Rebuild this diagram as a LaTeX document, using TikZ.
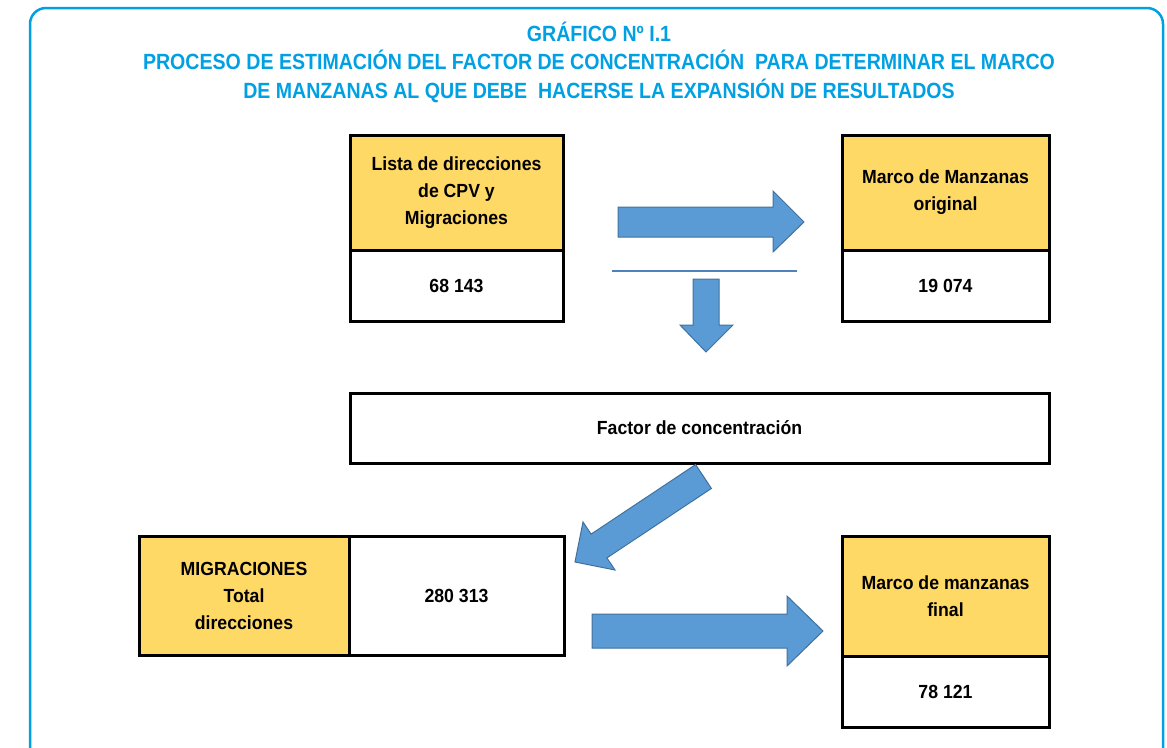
\documentclass[tikz,border=0pt]{standalone}
\usepackage{fontspec}
\setmainfont{Liberation Sans}[FakeStretch=0.93]
\newfontfamily\fuentetitulo{Liberation Sans}[FakeStretch=0.89]
\usetikzlibrary{positioning}
\definecolor{celeste}{RGB}{0,160,227}
\definecolor{amarillo}{RGB}{255,217,102}
\definecolor{flecha}{RGB}{91,155,213}
\definecolor{flechaborde}{RGB}{65,113,156}
\definecolor{linea}{RGB}{79,129,189}
\tikzset{
  caja/.style={draw=black, line width=3pt, align=center, inner sep=0pt, outer sep=0pt,
    font=\fontsize{19}{27}\selectfont\bfseries},
  cajaamarilla/.style={caja, fill=amarillo},
  cajablanca/.style={caja, fill=white},
  flechabloque/.style={fill=flecha, draw=flechaborde, line width=1pt, line join=miter}
}

\begin{document}
\begin{tikzpicture}[x=1pt,y=-1pt]
\useasboundingbox (0,0) rectangle (1167,747);
\clip (0,0) rectangle (1167,747);
% marco exterior
\draw[celeste, line width=2.5pt, rounded corners=16pt] (30,8) rectangle (1163,765);
\node[celeste, align=center, font=\fontsize{22}{28.5}\selectfont\fuentetitulo\bfseries] (titulo) at (599,62)
  {GRÁFICO Nº I.1\\PROCESO DE ESTIMACIÓN DEL FACTOR DE CONCENTRACIÓN~ PARA DETERMINAR EL MARCO\\DE MANZANAS AL QUE DEBE~ HACERSE LA EXPANSIÓN DE RESULTADOS};

% cajas superiores
\node[cajaamarilla, anchor=north west, minimum width=213, minimum height=115] (lista) at (350,135)
  {Lista de direcciones\\de CPV y\\Migraciones};
\node[cajablanca, below=0pt of lista, minimum width=213, minimum height=71] (listanum) {68 143};
\node[cajaamarilla, anchor=north west, minimum width=207, minimum height=115] (marco) at (842,135)
  {Marco de Manzanas\\original};
\node[cajablanca, below=0pt of marco, minimum width=207, minimum height=71] (marconum) {19 074};

% factor
\node[cajablanca, anchor=north west, minimum width=699, minimum height=70] (factor) at (350,393)
  {Factor de concentración};

% cajas inferiores
\node[cajaamarilla, anchor=north west, minimum width=210, minimum height=119] (migra) at (139,536)
  {MIGRACIONES\\Total\\direcciones};
\node[cajablanca, right=0pt of migra, minimum width=215, minimum height=119] (migranum) {280 313};
\node[cajaamarilla, anchor=north west, minimum width=207, minimum height=120] (final) at (842,536)
  {Marco de manzanas\\final};
\node[cajablanca, below=0pt of final, minimum width=207, minimum height=71] (finalnum) {78 121};

% flechas
\filldraw[flechabloque] (618,207) -- (773,207) -- (773,191) -- (804,222) -- (773,252) -- (773,237) -- (618,237) -- cycle;
\draw[linea, line width=1.2pt] (612,271) -- (797,271);
\filldraw[flechabloque] (693,279) -- (719,279) -- (719,325) -- (733,325) -- (706,352) -- (680,325) -- (693,325) -- cycle;
\filldraw[flechabloque] (695.6,464.6) -- (591.1,534.1) -- (583,522) -- (575,562) -- (615,570) -- (606.9,557.9) -- (711.4,488.4) -- cycle;
\filldraw[flechabloque] (592,614) -- (787,614) -- (787,596) -- (823,631) -- (787,666) -- (787,648) -- (592,648) -- cycle;
\end{tikzpicture}
\end{document}
